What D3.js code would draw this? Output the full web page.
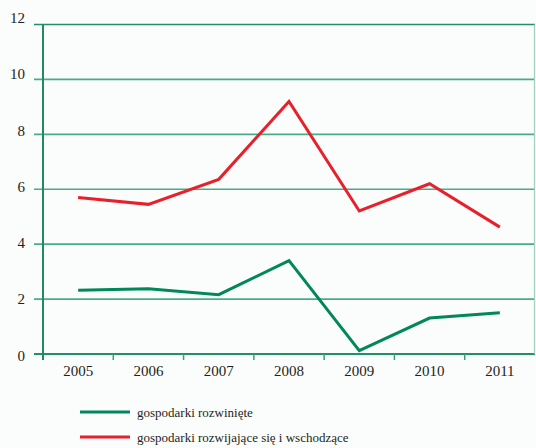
<!DOCTYPE html>
<html><head><meta charset="utf-8">
<script src="https://cdn.jsdelivr.net/npm/d3@7"></script>
<style>body{margin:0;background:#fbfdfc;}svg{display:block;} text{font-family:"Liberation Serif","Times New Roman",serif;}</style>
</head><body>
<svg id="c" width="536" height="448"></svg>
<script>
const years = ["2005","2006","2007","2008","2009","2010","2011"];
const developed = [2.32, 2.38, 2.16, 3.40, 0.12, 1.31, 1.50];
const emerging = [5.70, 5.45, 6.36, 9.20, 5.21, 6.20, 4.62];
const yTicks = [0, 2, 4, 6, 8, 10, 12];
const seriesNames = ["gospodarki rozwinięte", "gospodarki rozwijające się i wschodzące"];
const colors = ["#00875a", "#e8202b"];

const svg = d3.select("#c");
const L = 43, R = 535, T = 24.5, B = 354;
const x = d3.scaleBand().domain(years).range([L, R]);
const y = d3.scaleLinear().domain([0, 12]).range([B, T]);
const yLab = d3.scaleLinear().domain([0, 12]).range([B + 6.5, T - 1.5]);

svg.append("rect").attr("width", 536).attr("height", 448).attr("fill", "#fbfdfc");

svg.append("g").selectAll("line").data(yTicks).join("line")
  .attr("x1", 34).attr("x2", R).attr("y1", d => y(d)).attr("y2", d => y(d))
  .attr("stroke", d => d === 12 || d === 0 ? "#1f9069" : "#4aab88").attr("stroke-width", d => d === 0 ? 2 : 1.6);

svg.append("line").attr("x1", R - 0.5).attr("x2", R - 0.5).attr("y1", T).attr("y2", B)
  .attr("stroke", "#9fd0bd").attr("stroke-width", 1.2);

svg.append("line").attr("x1", L).attr("x2", L).attr("y1", T).attr("y2", B + 6)
  .attr("stroke", "#1f8a63").attr("stroke-width", 2);

const bounds = years.slice(1).map(d => x(d));
svg.append("g").selectAll("line").data(bounds).join("line")
  .attr("x1", d => d).attr("x2", d => d).attr("y1", B).attr("y2", B + 6)
  .attr("stroke", "#3a9e7a").attr("stroke-width", 1.5);

svg.append("g").selectAll("text").data(yTicks).join("text")
  .attr("x", 25).attr("y", d => yLab(d)).attr("text-anchor", "end")
  .style("font-size", "15px").attr("fill", "#231f20")
  .text(d => d);

const xAxis = svg.append("g").attr("transform", `translate(0,${B})`)
  .call(d3.axisBottom(x).tickSize(0).tickPadding(11));
xAxis.attr("font-family", null);
xAxis.select(".domain").remove();
xAxis.selectAll("text").style("font-size", "15px").attr("fill", "#231f20");

const line = d3.line().x((d, i) => x(years[i]) + x.bandwidth() / 2).y(d => y(d));
[developed, emerging].forEach((s, i) => {
  svg.append("path").datum(s).attr("d", line).attr("fill", "none")
    .attr("stroke", colors[i]).attr("stroke-width", 3).attr("stroke-linejoin", "miter");
});

const legY = [412, 437];
seriesNames.forEach((n, i) => {
  svg.append("line").attr("x1", 80).attr("x2", 130).attr("y1", legY[i]).attr("y2", legY[i])
    .attr("stroke", colors[i]).attr("stroke-width", 3);
  svg.append("text").attr("x", 137).attr("y", legY[i] + 5)
    .style("font-size", "13px").attr("fill", "#231f20").text(n);
});
</script>
</body></html>
